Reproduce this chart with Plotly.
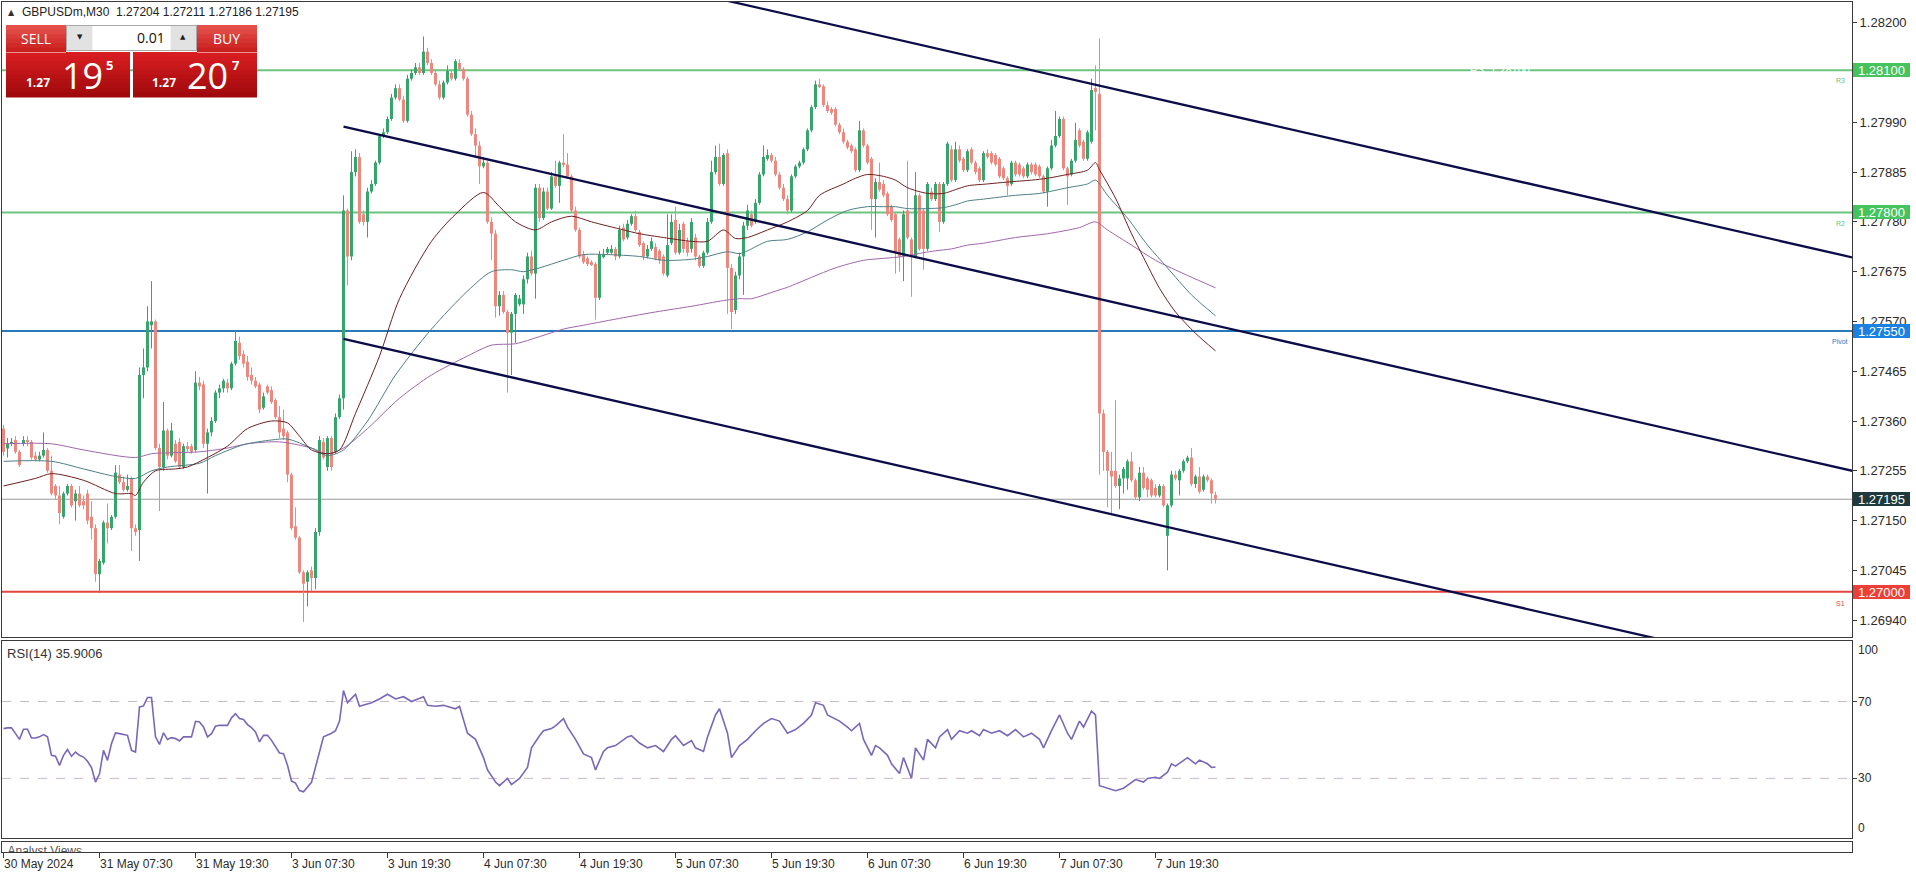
import plotly.graph_objects as go

W, H = 1916, 874

# ---------------- DATA ----------------
opens = [
 1.27344, 1.27302, 1.27313, 1.27320, 1.27295, 1.27312, 1.27320, 1.27316, 1.27287, 1.27279,
 1.27287, 1.27299, 1.27255, 1.27223, 1.27203, 1.27158, 1.27207, 1.27223, 1.27191, 1.27207,
 1.27191, 1.27207, 1.27158, 1.27134, 1.27037, 1.27061, 1.27146, 1.27134, 1.27158, 1.27247,
 1.27231, 1.27215, 1.27239, 1.27134, 1.27130, 1.27457, 1.27473, 1.27562, 1.27570, 1.27303,
 1.27263, 1.27340, 1.27287, 1.27312, 1.27316, 1.27263, 1.27307, 1.27307, 1.27299, 1.27441,
 1.27437, 1.27312, 1.27336, 1.27360, 1.27420, 1.27429, 1.27441, 1.27429, 1.27481, 1.27525,
 1.27501, 1.27485, 1.27457, 1.27445, 1.27437, 1.27388, 1.27433, 1.27425, 1.27404, 1.27368,
 1.27344, 1.27336, 1.27247, 1.27138, 1.27114, 1.27041, 1.27021, 1.27045, 1.27029, 1.27126,
 1.27316, 1.27263, 1.27324, 1.27295, 1.27368, 1.27408, 1.27804, 1.27707, 1.27885, 1.27917,
 1.27796, 1.27780, 1.27844, 1.27860, 1.27905, 1.27961, 1.27969, 1.27997, 1.28042, 1.28062,
 1.28038, 1.27993, 1.28082, 1.28094, 1.28106, 1.28094, 1.28139, 1.28115, 1.28094, 1.28070,
 1.28042, 1.28074, 1.28094, 1.28082, 1.28115, 1.28102, 1.28082, 1.28006, 1.27965, 1.27941,
 1.27897, 1.27905, 1.27780, 1.27755, 1.27602, 1.27626, 1.27590, 1.27546, 1.27586, 1.27606,
 1.27606, 1.27659, 1.27707, 1.27671, 1.27852, 1.27788, 1.27844, 1.27808, 1.27876, 1.27856,
 1.27905, 1.27901, 1.27876, 1.27804, 1.27763, 1.27711, 1.27703, 1.27695, 1.27691, 1.27620,
 1.27707, 1.27715, 1.27715, 1.27723, 1.27707, 1.27768, 1.27747, 1.27776, 1.27792, 1.27759,
 1.27735, 1.27707, 1.27723, 1.27727, 1.27719, 1.27707, 1.27667, 1.27735, 1.27784, 1.27715,
 1.27776, 1.27739, 1.27723, 1.27747, 1.27707, 1.27687, 1.27715, 1.27780, 1.27885, 1.27917,
 1.27860, 1.27925, 1.27683, 1.27594, 1.27667, 1.27707, 1.27772, 1.27796, 1.27780, 1.27820,
 1.27880, 1.27913, 1.27921, 1.27909, 1.27880, 1.27852, 1.27828, 1.27804, 1.27876, 1.27897,
 1.27905, 1.27933, 1.27973, 1.28022, 1.28070, 1.28066, 1.28026, 1.28018, 1.28018, 1.27985,
 1.27969, 1.27949, 1.27941, 1.27933, 1.27889, 1.27973, 1.27941, 1.27913, 1.27828, 1.27864,
 1.27860, 1.27840, 1.27812, 1.27796, 1.27743, 1.27707, 1.27804, 1.27743, 1.27707, 1.27836,
 1.27804, 1.27723, 1.27844, 1.27828, 1.27860, 1.27780, 1.27860, 1.27933, 1.27868, 1.27933,
 1.27913, 1.27889, 1.27933, 1.27905, 1.27893, 1.27868, 1.27925, 1.27925, 1.27921, 1.27913,
 1.27893, 1.27872, 1.27860, 1.27905, 1.27901, 1.27893, 1.27876, 1.27901, 1.27901, 1.27897,
 1.27876, 1.27844, 1.27893, 1.27941, 1.27961, 1.27997, 1.27893, 1.27880, 1.27909, 1.27973,
 1.27949, 1.27913, 1.27949, 1.28062, 1.28050, 1.27376, 1.27295, 1.27255, 1.27255, 1.27223,
 1.27239, 1.27239, 1.27275, 1.27235, 1.27199, 1.27251, 1.27239, 1.27235, 1.27219, 1.27203,
 1.27223, 1.27118, 1.27182, 1.27247, 1.27235, 1.27255, 1.27275, 1.27283, 1.27227, 1.27243,
 1.27215, 1.27243, 1.27235, 1.27204]

highs = [
 1.27352, 1.27324, 1.27324, 1.27328, 1.27299, 1.27328, 1.27328, 1.27320, 1.27295, 1.27295,
 1.27336, 1.27303, 1.27287, 1.27227, 1.27223, 1.27211, 1.27227, 1.27227, 1.27215, 1.27223,
 1.27203, 1.27215, 1.27191, 1.27142, 1.27069, 1.27150, 1.27186, 1.27162, 1.27267, 1.27267,
 1.27243, 1.27247, 1.27243, 1.27142, 1.27473, 1.27513, 1.27602, 1.27655, 1.27574, 1.27312,
 1.27400, 1.27344, 1.27356, 1.27320, 1.27324, 1.27312, 1.27316, 1.27312, 1.27465, 1.27453,
 1.27445, 1.27344, 1.27368, 1.27425, 1.27437, 1.27449, 1.27449, 1.27485, 1.27550, 1.27538,
 1.27509, 1.27497, 1.27473, 1.27453, 1.27441, 1.27420, 1.27437, 1.27433, 1.27408, 1.27392,
 1.27384, 1.27340, 1.27251, 1.27178, 1.27118, 1.27045, 1.27045, 1.27053, 1.27134, 1.27328,
 1.27324, 1.27328, 1.27328, 1.27376, 1.27416, 1.27836, 1.27808, 1.27929, 1.27933, 1.27925,
 1.27804, 1.27852, 1.27868, 1.27909, 1.27965, 1.27977, 1.28002, 1.28050, 1.28070, 1.28070,
 1.28046, 1.28090, 1.28102, 1.28115, 1.28115, 1.28171, 1.28147, 1.28123, 1.28102, 1.28078,
 1.28078, 1.28110, 1.28102, 1.28123, 1.28123, 1.28106, 1.28086, 1.28014, 1.27977, 1.27950,
 1.27917, 1.27909, 1.27790, 1.27763, 1.27634, 1.27634, 1.27594, 1.27590, 1.27630, 1.27626,
 1.27667, 1.27715, 1.27719, 1.27860, 1.27860, 1.27852, 1.27852, 1.27885, 1.27909, 1.27909,
 1.27965, 1.27925, 1.27880, 1.27812, 1.27768, 1.27719, 1.27707, 1.27699, 1.27695, 1.27719,
 1.27723, 1.27727, 1.27731, 1.27727, 1.27772, 1.27776, 1.27784, 1.27796, 1.27804, 1.27763,
 1.27739, 1.27731, 1.27747, 1.27735, 1.27723, 1.27711, 1.27796, 1.27796, 1.27812, 1.27776,
 1.27780, 1.27747, 1.27788, 1.27755, 1.27711, 1.27719, 1.27788, 1.27909, 1.27941, 1.27945,
 1.27925, 1.27933, 1.27691, 1.27675, 1.27715, 1.27780, 1.27816, 1.27804, 1.27828, 1.27885,
 1.27941, 1.27933, 1.27925, 1.27917, 1.27885, 1.27860, 1.27836, 1.27880, 1.27901, 1.27909,
 1.27937, 1.27977, 1.28026, 1.28078, 1.28082, 1.28070, 1.28034, 1.28022, 1.28022, 1.27989,
 1.27977, 1.27953, 1.27945, 1.27937, 1.27993, 1.27977, 1.27945, 1.27917, 1.27872, 1.27905,
 1.27868, 1.27844, 1.27816, 1.27800, 1.27747, 1.27804, 1.27909, 1.27747, 1.27885, 1.27840,
 1.27808, 1.27864, 1.27852, 1.27864, 1.27864, 1.27864, 1.27949, 1.27941, 1.27949, 1.27941,
 1.27917, 1.27933, 1.27937, 1.27909, 1.27897, 1.27929, 1.27933, 1.27929, 1.27925, 1.27917,
 1.27897, 1.27876, 1.27909, 1.27909, 1.27905, 1.27897, 1.27905, 1.27905, 1.27905, 1.27901,
 1.27880, 1.27897, 1.27953, 1.28014, 1.28002, 1.28002, 1.27897, 1.27913, 1.27989, 1.27977,
 1.27953, 1.27973, 1.28082, 1.28110, 1.28167, 1.27384, 1.27299, 1.27295, 1.27404, 1.27247,
 1.27263, 1.27279, 1.27295, 1.27239, 1.27263, 1.27263, 1.27243, 1.27239, 1.27227, 1.27227,
 1.27227, 1.27186, 1.27255, 1.27255, 1.27259, 1.27279, 1.27287, 1.27303, 1.27247, 1.27263,
 1.27247, 1.27247, 1.27239, 1.27211]

lows = [
 1.27287, 1.27283, 1.27307, 1.27291, 1.27263, 1.27307, 1.27307, 1.27279, 1.27275, 1.27275,
 1.27283, 1.27251, 1.27203, 1.27195, 1.27142, 1.27154, 1.27203, 1.27178, 1.27150, 1.27178,
 1.27174, 1.27142, 1.27110, 1.27021, 1.26997, 1.27057, 1.27102, 1.27130, 1.27154, 1.27227,
 1.27211, 1.27211, 1.27086, 1.27118, 1.27065, 1.27408, 1.27465, 1.27513, 1.27299, 1.27170,
 1.27255, 1.27279, 1.27283, 1.27271, 1.27259, 1.27259, 1.27295, 1.27291, 1.27295, 1.27425,
 1.27303, 1.27207, 1.27328, 1.27356, 1.27408, 1.27420, 1.27420, 1.27425, 1.27477, 1.27489,
 1.27473, 1.27445, 1.27437, 1.27429, 1.27376, 1.27384, 1.27416, 1.27396, 1.27364, 1.27324,
 1.27320, 1.27231, 1.27130, 1.27110, 1.27037, 1.26936, 1.26969, 1.27001, 1.27005, 1.27118,
 1.27279, 1.27255, 1.27255, 1.27291, 1.27364, 1.27384, 1.27646, 1.27699, 1.27876, 1.27776,
 1.27772, 1.27747, 1.27840, 1.27856, 1.27901, 1.27957, 1.27965, 1.27993, 1.28038, 1.28034,
 1.27989, 1.27989, 1.28078, 1.28090, 1.28090, 1.28090, 1.28110, 1.28090, 1.28066, 1.28038,
 1.28038, 1.28070, 1.28078, 1.28078, 1.28098, 1.28078, 1.28002, 1.27961, 1.27917, 1.27860,
 1.27893, 1.27776, 1.27699, 1.27578, 1.27582, 1.27586, 1.27420, 1.27457, 1.27525, 1.27602,
 1.27586, 1.27650, 1.27667, 1.27618, 1.27780, 1.27784, 1.27805, 1.27805, 1.27852, 1.27820,
 1.27895, 1.27872, 1.27800, 1.27759, 1.27703, 1.27691, 1.27687, 1.27687, 1.27574, 1.27615,
 1.27703, 1.27711, 1.27711, 1.27699, 1.27703, 1.27739, 1.27743, 1.27772, 1.27759, 1.27727,
 1.27699, 1.27703, 1.27719, 1.27699, 1.27691, 1.27667, 1.27663, 1.27731, 1.27711, 1.27711,
 1.27715, 1.27707, 1.27715, 1.27699, 1.27683, 1.27683, 1.27711, 1.27776, 1.27880, 1.27856,
 1.27856, 1.27586, 1.27554, 1.27586, 1.27659, 1.27626, 1.27763, 1.27768, 1.27776, 1.27816,
 1.27876, 1.27909, 1.27905, 1.27876, 1.27848, 1.27824, 1.27796, 1.27800, 1.27872, 1.27893,
 1.27901, 1.27929, 1.27969, 1.28018, 1.28062, 1.28022, 1.28010, 1.28006, 1.27981, 1.27965,
 1.27945, 1.27933, 1.27925, 1.27885, 1.27885, 1.27937, 1.27901, 1.27763, 1.27747, 1.27844,
 1.27832, 1.27792, 1.27780, 1.27671, 1.27675, 1.27655, 1.27743, 1.27622, 1.27703, 1.27719,
 1.27679, 1.27719, 1.27824, 1.27824, 1.27759, 1.27776, 1.27856, 1.27864, 1.27864, 1.27905,
 1.27885, 1.27885, 1.27901, 1.27880, 1.27864, 1.27864, 1.27913, 1.27901, 1.27897, 1.27872,
 1.27868, 1.27836, 1.27856, 1.27876, 1.27876, 1.27872, 1.27872, 1.27880, 1.27876, 1.27872,
 1.27840, 1.27812, 1.27889, 1.27937, 1.27957, 1.27889, 1.27816, 1.27876, 1.27905, 1.27937,
 1.27909, 1.27909, 1.27945, 1.27973, 1.27247, 1.27255, 1.27178, 1.27162, 1.27219, 1.27174,
 1.27207, 1.27215, 1.27231, 1.27195, 1.27191, 1.27215, 1.27199, 1.27199, 1.27199, 1.27199,
 1.27178, 1.27045, 1.27178, 1.27235, 1.27203, 1.27251, 1.27271, 1.27223, 1.27219, 1.27207,
 1.27211, 1.27231, 1.27186, 1.27186]

closes = [
 1.27295, 1.27313, 1.27316, 1.27295, 1.27267, 1.27320, 1.27316, 1.27283, 1.27279, 1.27287,
 1.27299, 1.27255, 1.27207, 1.27203, 1.27166, 1.27207, 1.27223, 1.27182, 1.27207, 1.27182,
 1.27182, 1.27150, 1.27134, 1.27037, 1.27065, 1.27146, 1.27134, 1.27158, 1.27251, 1.27231,
 1.27215, 1.27223, 1.27134, 1.27126, 1.27457, 1.27473, 1.27570, 1.27570, 1.27303, 1.27263,
 1.27340, 1.27287, 1.27340, 1.27275, 1.27263, 1.27307, 1.27303, 1.27295, 1.27441, 1.27433,
 1.27312, 1.27336, 1.27360, 1.27420, 1.27429, 1.27445, 1.27429, 1.27481, 1.27529, 1.27497,
 1.27481, 1.27453, 1.27445, 1.27433, 1.27384, 1.27412, 1.27420, 1.27400, 1.27368, 1.27336,
 1.27328, 1.27247, 1.27134, 1.27114, 1.27041, 1.27017, 1.27041, 1.27029, 1.27126, 1.27320,
 1.27283, 1.27324, 1.27263, 1.27368, 1.27408, 1.27804, 1.27707, 1.27885, 1.27917, 1.27780,
 1.27780, 1.27844, 1.27860, 1.27905, 1.27961, 1.27969, 1.27997, 1.28042, 1.28062, 1.28038,
 1.27993, 1.28082, 1.28094, 1.28106, 1.28094, 1.28139, 1.28115, 1.28094, 1.28070, 1.28042,
 1.28074, 1.28098, 1.28082, 1.28119, 1.28102, 1.28082, 1.28006, 1.27965, 1.27941, 1.27897,
 1.27905, 1.27780, 1.27755, 1.27602, 1.27626, 1.27590, 1.27546, 1.27586, 1.27626, 1.27618,
 1.27659, 1.27707, 1.27671, 1.27852, 1.27788, 1.27844, 1.27808, 1.27876, 1.27856, 1.27905,
 1.27901, 1.27876, 1.27804, 1.27763, 1.27707, 1.27695, 1.27691, 1.27691, 1.27620, 1.27711,
 1.27711, 1.27723, 1.27723, 1.27707, 1.27763, 1.27743, 1.27776, 1.27792, 1.27763, 1.27731,
 1.27707, 1.27723, 1.27739, 1.27703, 1.27699, 1.27671, 1.27731, 1.27780, 1.27715, 1.27763,
 1.27723, 1.27715, 1.27780, 1.27707, 1.27687, 1.27715, 1.27780, 1.27885, 1.27917, 1.27860,
 1.27921, 1.27683, 1.27590, 1.27667, 1.27707, 1.27772, 1.27804, 1.27772, 1.27820, 1.27880,
 1.27917, 1.27921, 1.27909, 1.27880, 1.27852, 1.27828, 1.27804, 1.27876, 1.27897, 1.27905,
 1.27933, 1.27973, 1.28022, 1.28070, 1.28066, 1.28026, 1.28014, 1.28010, 1.27985, 1.27969,
 1.27949, 1.27937, 1.27929, 1.27889, 1.27973, 1.27941, 1.27905, 1.27828, 1.27864, 1.27848,
 1.27836, 1.27796, 1.27784, 1.27715, 1.27707, 1.27796, 1.27747, 1.27707, 1.27836, 1.27723,
 1.27723, 1.27860, 1.27828, 1.27860, 1.27780, 1.27860, 1.27945, 1.27868, 1.27933, 1.27909,
 1.27889, 1.27929, 1.27905, 1.27885, 1.27868, 1.27925, 1.27917, 1.27905, 1.27901, 1.27876,
 1.27872, 1.27856, 1.27905, 1.27880, 1.27880, 1.27876, 1.27901, 1.27885, 1.27880, 1.27876,
 1.27844, 1.27893, 1.27941, 1.27961, 1.27997, 1.27893, 1.27876, 1.27909, 1.27953, 1.27941,
 1.27913, 1.27969, 1.28058, 1.28054, 1.27376, 1.27295, 1.27255, 1.27243, 1.27223, 1.27239,
 1.27259, 1.27275, 1.27235, 1.27199, 1.27251, 1.27219, 1.27215, 1.27203, 1.27203, 1.27223,
 1.27182, 1.27182, 1.27247, 1.27239, 1.27255, 1.27275, 1.27283, 1.27227, 1.27243, 1.27211,
 1.27243, 1.27235, 1.27207, 1.27195]

bars = list(range(len(closes)))
assert len(opens) == len(highs) == len(lows) == len(closes) == 304

# moving averages
ma_brown_bars = [0, 8, 12, 20, 28, 32, 33, 35, 38, 43, 46, 51, 56, 61, 67, 71, 74, 77, 81, 84,
                 88, 94, 99, 107, 113, 120, 124, 128, 133, 137, 142, 147, 155, 159, 165, 172, 176, 180, 183, 186,
                 191, 196, 201, 204, 210, 213, 216, 220, 223, 226, 231, 235, 238, 241, 246, 251, 257, 261, 266, 271,
                 273, 274, 278, 282, 285, 289, 293, 298, 303]
ma_brown = [1.27223, 1.27239, 1.27249, 1.27235, 1.27207, 1.27207, 1.27203, 1.27231, 1.27255, 1.27259,
            1.27263, 1.27283, 1.27307, 1.27344, 1.27360, 1.27356, 1.27328, 1.27299, 1.27291, 1.27299,
            1.27376, 1.27497, 1.27618, 1.27739, 1.27796, 1.27842, 1.27812, 1.27780, 1.27763, 1.27780,
            1.27792, 1.27780, 1.27763, 1.27755, 1.27747, 1.27739, 1.27739, 1.27763, 1.27745, 1.27747,
            1.27763, 1.27780, 1.27804, 1.27836, 1.27860, 1.27872, 1.27880, 1.27876, 1.27868, 1.27852,
            1.27840, 1.27840, 1.27848, 1.27856, 1.27860, 1.27864, 1.27868, 1.27872, 1.27880, 1.27889,
            1.27905, 1.27890, 1.27830, 1.27755, 1.27705, 1.27640, 1.27590, 1.27545, 1.27508]
ma_teal_bars = [0, 12, 20, 28, 33, 37, 41, 49, 53, 60, 67, 71, 77, 81, 85, 91, 98, 107, 116, 122,
                127, 130, 134, 140, 145, 151, 159, 165, 172, 176, 181, 184, 186, 191, 196, 201, 206, 211, 216, 220,
                223, 226, 231, 235, 238, 241, 245, 253, 259, 266, 271, 273, 276, 281, 286, 291, 297, 303]
ma_teal = [1.27275, 1.27275, 1.27259, 1.27243, 1.27239, 1.27255, 1.27263, 1.27271, 1.27287, 1.27310,
           1.27320, 1.27322, 1.27303, 1.27287, 1.27299, 1.27360, 1.27457, 1.27554, 1.27634, 1.27675,
           1.27679, 1.27675, 1.27683, 1.27699, 1.27711, 1.27711, 1.27707, 1.27699, 1.27701, 1.27707,
           1.27717, 1.27713, 1.27719, 1.27739, 1.27743, 1.27759, 1.27784, 1.27804, 1.27812, 1.27812,
           1.27812, 1.27808, 1.27808, 1.27810, 1.27816, 1.27824, 1.27828, 1.27836, 1.27840, 1.27852,
           1.27860, 1.27868, 1.27836, 1.27788, 1.27731, 1.27683, 1.27626, 1.27582]
ma_purple_bars = [0, 12, 20, 33, 37, 49, 56, 61, 69, 77, 81, 85, 91, 99, 107, 116, 122, 128, 134, 140,
                  145, 155, 163, 172, 180, 184, 187, 193, 196, 202, 208, 215, 220, 225, 230, 233, 237, 241, 245, 253,
                  261, 269, 273, 276, 282, 288, 296, 303]
ma_purple = [1.27312, 1.27312, 1.27299, 1.27283, 1.27291, 1.27295, 1.27303, 1.27312, 1.27316, 1.27303,
             1.27291, 1.27303, 1.27344, 1.27408, 1.27457, 1.27497, 1.27520, 1.27523, 1.27538, 1.27554,
             1.27562, 1.27578, 1.27590, 1.27602, 1.27614, 1.27618, 1.27618, 1.27634, 1.27642, 1.27663,
             1.27683, 1.27699, 1.27703, 1.27707, 1.27715, 1.27719, 1.27723, 1.27731, 1.27735, 1.27747,
             1.27755, 1.27768, 1.27780, 1.27763, 1.27731, 1.27699, 1.27667, 1.27641]

# RSI(14)
rsi_bars = list(range(75)) + [
    75, 77, 79, 80, 82, 83, 84, 85, 86, 88, 89, 92, 94, 96, 98, 100, 102, 105, 106, 108,
    110, 113, 114, 116, 118, 120, 121, 123, 124, 126, 127, 129, 131, 132, 134, 135, 137, 138, 140, 141,
    143, 145, 147, 148, 150, 151, 153, 156, 157, 159, 161, 163, 165, 167, 168, 170, 172, 173, 175, 176,
    178, 179, 181, 182, 184, 186, 188, 190, 192, 194, 196, 198, 200, 202, 203, 205, 206, 209, 211, 212,
    214, 215, 217, 218, 219, 221, 222, 224, 225, 227, 228, 230, 231, 233, 234, 236, 237, 239, 241, 242,
    244, 245, 247, 249, 251, 253, 255, 257, 259, 260, 262, 264, 266, 267, 269, 270, 272, 273, 274, 276,
    278, 280, 282, 283, 285, 286, 288, 289, 291, 292, 293, 295, 296, 298, 299, 301, 302, 303]
rsi_vals = [
    55.9, 56.3, 56.3, 53.3, 50.3, 55.6, 55.6, 51.0, 51.0, 51.6, 52.8, 51.6, 42.0, 41.5, 36.8, 42.0, 45.0, 41.5, 43.7, 42.0,
    41.1, 38.9, 35.6, 28.1, 32.4, 44.6, 39.4, 48.1, 53.7, 53.3, 52.8, 52.4, 44.6, 43.7, 67.2, 67.7, 72.1, 72.1, 51.6, 47.7,
    53.7, 50.2, 51.2, 50.7, 49.5, 51.6, 51.6, 51.6, 59.7, 59.4, 56.8, 51.6, 53.3, 57.1, 57.6, 57.6, 57.6, 61.5, 63.7, 61.1,
    60.6, 58.0, 56.4, 54.2, 49.0, 52.4, 52.4, 49.8, 46.3, 43.2, 42.9, 36.8, 28.6, 27.6, 23.7,
    23.0, 28.0, 44.0, 51.6, 53.5, 54.8, 59.8, 75.7, 69.4, 73.8, 67.5, 69.4, 71.3, 73.8, 71.3, 72.5, 70.0, 72.5, 68.0, 67.5,
    68.0, 66.2, 67.5, 53.5, 50.3, 40.8, 34.4, 28.1, 26.2, 30.0, 26.8, 30.0, 35.7, 45.9, 52.2, 54.8, 56.0, 57.3, 61.1, 56.7,
    50.3, 42.7, 40.8, 34.4, 44.0, 45.9, 47.1, 51.6, 52.2, 48.4, 45.9, 47.1, 44.0, 50.3, 52.2, 47.1, 49.7, 45.9, 44.0, 51.6,
    63.0, 66.2, 53.5, 40.8, 47.1, 50.3, 54.8, 58.6, 61.1, 59.8, 53.5, 55.4, 58.6, 63.0, 69.4, 68.0, 63.0, 59.8, 56.7, 54.8,
    58.6, 50.3, 42.0, 47.1, 45.9, 42.0, 37.6, 32.5, 40.8, 30.0, 45.9, 39.5, 50.3, 45.9, 51.6, 55.4, 50.3, 54.8, 53.5, 54.8,
    52.2, 55.4, 53.5, 54.8, 52.2, 55.4, 51.6, 53.5, 50.3, 45.9, 54.8, 63.0, 53.5, 50.3, 59.8, 56.7, 65.0, 63.0, 26.2, 24.9,
    23.6, 24.9, 28.1, 29.4, 28.1, 30.0, 30.6, 30.0, 33.2, 37.6, 36.4, 39.5, 40.8, 37.6, 39.5, 37.6, 35.7, 35.9]
assert len(rsi_bars) == len(rsi_vals)
rsi_levels = [30, 70]

# equidistant channel (drawn object)
channel_bars = [85, 470]
channel_upper = [1.28431, 1.27690]
channel_mid = [1.27981, 1.27240]
channel_lower = [1.27533, 1.26792]

# pivot levels
level_names = ["R3", "R2", "Pivot", "S1"]
level_values = [1.28100, 1.27800, 1.27550, 1.27000]
last_price = 1.27195

price_ticks = [1.28200, 1.28095, 1.27990, 1.27885, 1.27780, 1.27675, 1.27570,
               1.27465, 1.27360, 1.27255, 1.27150, 1.27045, 1.26940]
x_tick_bars = [0, 24, 48, 72, 96, 120, 144, 168, 192, 216, 240, 264, 288]
x_tick_labels = ["30 May 2024", "31 May 07:30", "31 May 19:30", "3 Jun 07:30", "3 Jun 19:30",
                 "4 Jun 07:30", "4 Jun 19:30", "5 Jun 07:30", "5 Jun 19:30", "6 Jun 07:30",
                 "6 Jun 19:30", "7 Jun 07:30", "7 Jun 19:30"]

header_text = "GBPUSDm,M30  1.27204 1.27211 1.27186 1.27195"
rsi_title = "RSI(14) 35.9006"

# ---------------- STYLE ----------------
FONT = "Liberation Sans"
BULL = "#35A66B"
BEAR = "#EE877D"
AXC = "#3a3a3a"
TXT = "#2b2b2b"

def fx(px):
    return px / W

def fy(py):
    return 1 - py / H

X_DOM = [fx(2), fx(1852)]
X_RANGE = [-0.375, 462.125]

fig = go.Figure()

# candle bodies
up = [i for i in bars if closes[i] >= opens[i]]
dn = [i for i in bars if closes[i] < opens[i]]
fig.add_trace(go.Bar(x=up, y=[closes[i] - opens[i] for i in up], base=[opens[i] for i in up],
                     width=0.75, marker=dict(color=BULL, line=dict(width=0)),
                     hoverinfo="skip", showlegend=False, xaxis="x", yaxis="y"))
fig.add_trace(go.Bar(x=dn, y=[opens[i] - closes[i] for i in dn], base=[closes[i] for i in dn],
                     width=0.75, marker=dict(color=BEAR, line=dict(width=0)),
                     hoverinfo="skip", showlegend=False, xaxis="x", yaxis="y"))

def wick_xy(idx):
    xs, ys = [], []
    for i in idx:
        xs += [i, i, None]
        ys += [lows[i], highs[i], None]
    return xs, ys

for idx, col in ((up, BULL), (dn, BEAR)):
    wx, wy = wick_xy(idx)
    fig.add_trace(go.Scatter(x=wx, y=wy, mode="lines", line=dict(color=col, width=1),
                             hoverinfo="skip", showlegend=False, xaxis="x", yaxis="y"))

# moving averages
for bx, vals, col in ((ma_purple_bars, ma_purple, "#A066AC"),
                      (ma_teal_bars, ma_teal, "#4D7F86"),
                      (ma_brown_bars, ma_brown, "#6E1F1F")):
    fig.add_trace(go.Scatter(x=bx, y=vals, mode="lines",
                             line=dict(color=col, width=1, shape="spline", smoothing=0.8),
                             hoverinfo="skip", showlegend=False, xaxis="x", yaxis="y"))

# channel
for vals in (channel_upper, channel_mid, channel_lower):
    fig.add_trace(go.Scatter(x=channel_bars, y=vals, mode="lines",
                             line=dict(color="#0C0C48", width=2.3),
                             hoverinfo="skip", showlegend=False, xaxis="x", yaxis="y"))

# RSI
fig.add_trace(go.Scatter(x=rsi_bars, y=rsi_vals, mode="lines",
                         line=dict(color="#7A67B8", width=1.6),
                         hoverinfo="skip", showlegend=False, xaxis="x2", yaxis="y2"))

# Analyst Views label (clipped in its thin panel)
fig.add_trace(go.Scatter(x=[1.0], y=[0.05], mode="text", text=["Analyst Views"],
                         textposition="middle right",
                         textfont=dict(family=FONT, size=12, color="#555555"),
                         hoverinfo="skip", showlegend=False, xaxis="x3", yaxis="y3"))

shapes = []
annotations = []

# horizontal levels
level_colors = ["#6CC47E", "#6CC47E", "#2A78BA", "#E2453D"]
for v, c in zip(level_values, level_colors):
    shapes.append(dict(type="line", xref="paper", yref="y", x0=X_DOM[0], x1=X_DOM[1], y0=v, y1=v,
                       line=dict(color=c, width=2), layer="below"))
shapes.append(dict(type="line", xref="paper", yref="y", x0=X_DOM[0], x1=X_DOM[1],
                   y0=last_price, y1=last_price, line=dict(color="#9a9a9a", width=1), layer="below"))

# RSI level lines
for v in rsi_levels:
    shapes.append(dict(type="line", xref="paper", yref="y2", x0=X_DOM[0], x1=X_DOM[1], y0=v, y1=v,
                       line=dict(color="#CDB6D0", width=1, dash="dash"), layer="below"))

# white label over R3 line
annotations.append(dict(x=fx(1500), y=level_values[0], xref="paper", yref="y", showarrow=False,
                        text="R3  1.28100", font=dict(family=FONT, size=11, color="white"),
                        xanchor="center", yanchor="middle"))

# small level names
name_px_y = [81, 223, 342, 603]
name_px_x = [1834, 1834, 1830, 1834]
for nm, c, px, py in zip(level_names, level_colors, name_px_x, name_px_y):
    annotations.append(dict(x=fx(px), y=fy(py), xref="paper", yref="paper", showarrow=False,
                            text=nm, font=dict(family=FONT, size=7, color=c),
                            xanchor="left", yanchor="middle"))

# price boxes on the axis
box_specs = [(level_values[0], "#45C35C"), (level_values[1], "#45C35C"),
             (level_values[2], "#1A80E2"), (last_price, "#1F3A3C"), (level_values[3], "#EE3F36")]
for v, c in box_specs:
    annotations.append(dict(x=fx(1853), y=v, xref="paper", yref="y", showarrow=False,
                            text=f"{v:.5f}", font=dict(family=FONT, size=13, color="white"),
                            xanchor="left", yanchor="middle", bgcolor=c, borderpad=0, borderwidth=0,
                            width=57, height=14, align="center"))

# RSI labels
for lab, v in (("100", 96.8), ("70", 70), ("30", 30), ("0", 4.0)):
    annotations.append(dict(x=fx(1856), y=v, xref="paper", yref="y2", showarrow=False,
                            text=lab, font=dict(family=FONT, size=12, color=TXT),
                            xanchor="left", yanchor="middle"))

# x-axis labels
for b, lab in zip(x_tick_bars, x_tick_labels):
    annotations.append(dict(x=b, y=fy(864), xref="x3", yref="paper", showarrow=False,
                            text=lab, font=dict(family=FONT, size=12, color=TXT),
                            xanchor="left", yanchor="middle", xshift=-2))

# header + RSI title
annotations.append(dict(x=fx(6), y=fy(12.5), xref="paper", yref="paper", showarrow=False,
                        text="▲", font=dict(family="DejaVu Sans", size=8, color="#333333"),
                        xanchor="left", yanchor="middle"))
annotations.append(dict(x=fx(20), y=fy(12.5), xref="paper", yref="paper", showarrow=False,
                        text=header_text.replace("  ", "&nbsp;&nbsp;"),
                        font=dict(family=FONT, size=12, color="#222222"),
                        xanchor="left", yanchor="middle"))
annotations.append(dict(x=fx(5), y=fy(653), xref="paper", yref="paper", showarrow=False,
                        text=rsi_title, font=dict(family=FONT, size=13, color="#333333"),
                        xanchor="left", yanchor="middle"))

# ---------------- trade panel ----------------
def hex2rgb(h):
    h = h.lstrip("#")
    return tuple(int(h[k:k + 2], 16) for k in (0, 2, 4))

def grad_rect(x0, y0, x1, y1, c_top, c_bot, n=8):
    a, b = hex2rgb(c_top), hex2rgb(c_bot)
    for k in range(n):
        t = k / max(n - 1, 1)
        col = "rgb(%d,%d,%d)" % tuple(round(a[j] + (b[j] - a[j]) * t) for j in range(3))
        ya = y0 + (y1 - y0) * k / n
        yb = y0 + (y1 - y0) * (k + 1) / n
        shapes.append(dict(type="rect", xref="paper", yref="paper", x0=fx(x0), x1=fx(x1),
                           y0=fy(ya), y1=fy(yb + 0.6), fillcolor=col, line=dict(width=0), layer="above"))

def rect(x0, y0, x1, y1, fill, line_col=None):
    shapes.append(dict(type="rect", xref="paper", yref="paper", x0=fx(x0), x1=fx(x1),
                       y0=fy(y0), y1=fy(y1), fillcolor=fill,
                       line=dict(width=1 if line_col else 0, color=line_col or fill), layer="above"))

grad_rect(6, 25, 66, 52, "#E5504B", "#C9211F", 6)
grad_rect(197, 25, 257, 52, "#E5504B", "#C9211F", 6)
grad_rect(6, 52, 130, 97, "#D81D20", "#A10A0D", 10)
grad_rect(133, 52, 257, 97, "#D81D20", "#A10A0D", 10)
shapes.append(dict(type="line", xref="paper", yref="paper", x0=fx(6), x1=fx(66), y0=fy(52.5), y1=fy(52.5),
                   line=dict(color="#EE9090", width=1), layer="above"))
shapes.append(dict(type="line", xref="paper", yref="paper", x0=fx(197), x1=fx(257), y0=fy(52.5), y1=fy(52.5),
                   line=dict(color="#EE9090", width=1), layer="above"))
rect(66.5, 25.5, 196.5, 50.5, "#F4F4F4", "#A8A8A8")
rect(67, 26, 92, 50, "#E2E2E2")
rect(93, 26, 170, 50, "#FFFFFF")
rect(171, 26, 196, 50, "#E2E2E2")

PF = "Open Sans"
for txt, px, py, sz, col, anchor, bold in (
        ("SELL", 35.5, 38.5, 14, "white", "center", False),
        ("BUY", 226.5, 38.5, 14, "white", "center", False),
        ("▼", 80, 37.5, 7, "#222222", "center", False),
        ("▲", 183, 37.5, 7, "#222222", "center", False),
        ("0.01", 166, 37.5, 14, "#111111", "right", False),
        ("1.27", 25, 83, 12, "white", "left", True),
        ("19", 61, 75, 36, "white", "left", False),
        ("5", 105, 65, 13, "white", "left", True),
        ("1.27", 151, 83, 12, "white", "left", True),
        ("20", 186, 75, 36, "white", "left", False),
        ("7", 231, 65, 13, "white", "left", True)):
    annotations.append(dict(x=fx(px), y=fy(py), xref="paper", yref="paper", showarrow=False,
                            text=f"<b>{txt}</b>" if bold else txt,
                            font=dict(family=PF if txt not in ("▼", "▲") else "DejaVu Sans", size=sz, color=col),
                            xanchor=anchor, yanchor="middle", borderpad=0))

# ---------------- axes ----------------
ax_common = dict(showgrid=False, zeroline=False, showline=True, linecolor=AXC, linewidth=1,
                 mirror=True, automargin=False, fixedrange=True)
fig.update_layout(
    width=W, height=H,
    margin=dict(l=0, r=0, t=0, b=0, pad=0),
    paper_bgcolor="white", plot_bgcolor="white",
    barmode="overlay", showlegend=False,
    xaxis=dict(domain=X_DOM, range=X_RANGE, showticklabels=False, ticks="", anchor="y", **ax_common),
    yaxis=dict(domain=[fy(637), fy(2)], range=[1.269045, 1.282437], side="right", anchor="x",
               tickmode="array", tickvals=price_ticks, ticktext=[f"{v:.5f}" for v in price_ticks],
               ticks="outside", ticklen=4, tickcolor=AXC,
               tickfont=dict(family=FONT, size=13, color=TXT), **ax_common),
    xaxis2=dict(domain=X_DOM, range=X_RANGE, matches="x", showticklabels=False, ticks="", anchor="y2", **ax_common),
    yaxis2=dict(domain=[fy(838), fy(641)], range=[-1.0, 101.47], side="right", anchor="x2",
                tickmode="array", tickvals=[30, 70], ticks="outside", ticklen=4, tickcolor=AXC,
                showticklabels=False, **ax_common),
    xaxis3=dict(domain=X_DOM, range=X_RANGE, matches="x", showticklabels=False, anchor="y3",
                tickmode="array", tickvals=x_tick_bars, ticks="outside", ticklen=5, tickcolor=AXC,
                **ax_common),
    yaxis3=dict(domain=[fy(852), fy(842)], range=[0, 1], showticklabels=False, ticks="", anchor="x3",
                side="right", **ax_common),
    shapes=shapes,
    annotations=annotations,
)

fig.write_html("out.html", config={"displayModeBar": False},
               post_script="document.body.style.margin='0';document.body.style.padding='0';"
                           "document.body.style.overflow='hidden';")
